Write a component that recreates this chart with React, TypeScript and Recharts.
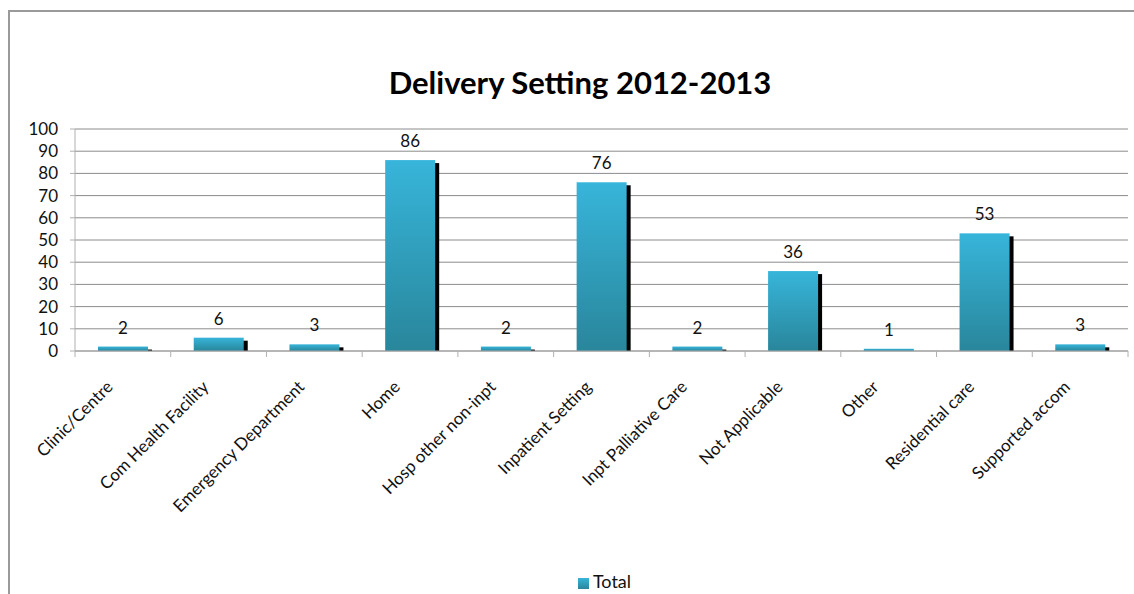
import React from "react";
import { BarChart, Bar, XAxis, YAxis, CartesianGrid, Legend, LabelList } from "recharts";

const categories = [
  "Clinic/Centre",
  "Com Health Facility",
  "Emergency Department",
  "Home",
  "Hosp other non-inpt",
  "Inpatient Setting",
  "Inpt Palliative Care",
  "Not Applicable",
  "Other",
  "Residential care",
  "Supported accom",
];
const totals = [2, 6, 3, 86, 2, 76, 2, 36, 1, 53, 3];
const yTicks = [0, 10, 20, 30, 40, 50, 60, 70, 80, 90, 100];

const W = 1134;
const H = 594;
const LEFT = 75;
const RIGHT = 6;
const BAND = (W - LEFT - RIGHT) / categories.length;
const FONT = "Lato, 'Open Sans', sans-serif";

const data = categories.map((name, i) => ({ name, total: totals[i] }));

// bar with a hard black drop shadow, like the Excel 2007 style
const ShadowBar = (props: any) => {
  const { x, y, width, height, fill } = props;
  if (!height || height <= 0) return null;
  const sh = Math.max(0, height - 3);
  return (
    <g>
      {sh > 0 && <rect x={x + 4} y={y + 3} width={width} height={sh} fill="#000" />}
      <rect x={x} y={y} width={width} height={height} fill={fill} />
    </g>
  );
};

const XTick = (props: any) => {
  const { x, y, payload, index } = props;
  const lx = x - BAND / 2;
  const tx = x - 9;
  const ty = y + 37;
  return (
    <g>
      <line x1={lx} y1={y} x2={lx} y2={y + 6} stroke="#b0b0b0" />
      {index === categories.length - 1 && (
        <line x1={x + BAND / 2} y1={y} x2={x + BAND / 2} y2={y + 6} stroke="#b0b0b0" />
      )}
      <text
        x={tx}
        y={ty}
        textAnchor="end"
        transform={`rotate(-45, ${tx}, ${ty})`}
        fontSize={17}
        fontFamily={FONT}
        fill="#111"
      >
        {payload.value}
      </text>
    </g>
  );
};

export default function App() {
  return (
    <div style={{ position: "absolute", left: 0, top: 0, width: W, height: H, background: "#fff", overflow: "hidden" }}>
      <div
        style={{
          position: "absolute",
          left: 8,
          top: 10,
          width: W,
          height: H,
          borderTop: "2px solid #9a9a9a",
          borderLeft: "2px solid #9a9a9a",
        }}
      />
      <div
        style={{
          position: "absolute",
          left: 13,
          width: W,
          top: 63,
          textAlign: "center",
          fontFamily: FONT,
          fontWeight: 700,
          fontSize: 31,
          lineHeight: "38px",
          color: "#000",
        }}
      >
        Delivery Setting 2012-2013
      </div>
      <BarChart
        width={W}
        height={H}
        data={data}
        margin={{ top: 129, right: RIGHT, left: 0, bottom: 2 }}
        barSize={50}
        style={{ position: "absolute", left: 0, top: 0 }}
      >
        <defs>
          <linearGradient id="barGrad" x1="0" y1="0" x2="0" y2="1">
            <stop offset="0%" stopColor="#37b5da" />
            <stop offset="100%" stopColor="#29869b" />
          </linearGradient>
        </defs>
        <CartesianGrid vertical={false} stroke="#8c8c8c" />
        <XAxis
          dataKey="name"
          interval={0}
          height={217}
          tickLine={false}
          tickSize={0}
          tickMargin={0}
          axisLine={{ stroke: "#a8a8a8" }}
          tick={<XTick />}
        />
        <YAxis
          width={LEFT}
          domain={[0, 100]}
          ticks={yTicks}
          interval={0}
          tickSize={5}
          tickMargin={12}
          axisLine={{ stroke: "#b0b0b0" }}
          tickLine={{ stroke: "#b0b0b0" }}
          tick={{ fontSize: 17, fontFamily: FONT, fill: "#111" }}
        />
        <Legend
          verticalAlign="bottom"
          height={24}
          iconType="square"
          iconSize={11}
          wrapperStyle={{ fontFamily: FONT, fontSize: 18, color: "#111", left: LEFT + 8, width: W - LEFT - RIGHT, bottom: 0 }}
          formatter={() => <span style={{ color: "#111" }}>Total</span>}
        />
        <Bar dataKey="total" name="Total" fill="url(#barGrad)" shape={<ShadowBar />} isAnimationActive={false}>
          <LabelList dataKey="total" position="top" offset={13} style={{ fontSize: 17, fontFamily: FONT, fill: "#111" }} />
        </Bar>
      </BarChart>
    </div>
  );
}
